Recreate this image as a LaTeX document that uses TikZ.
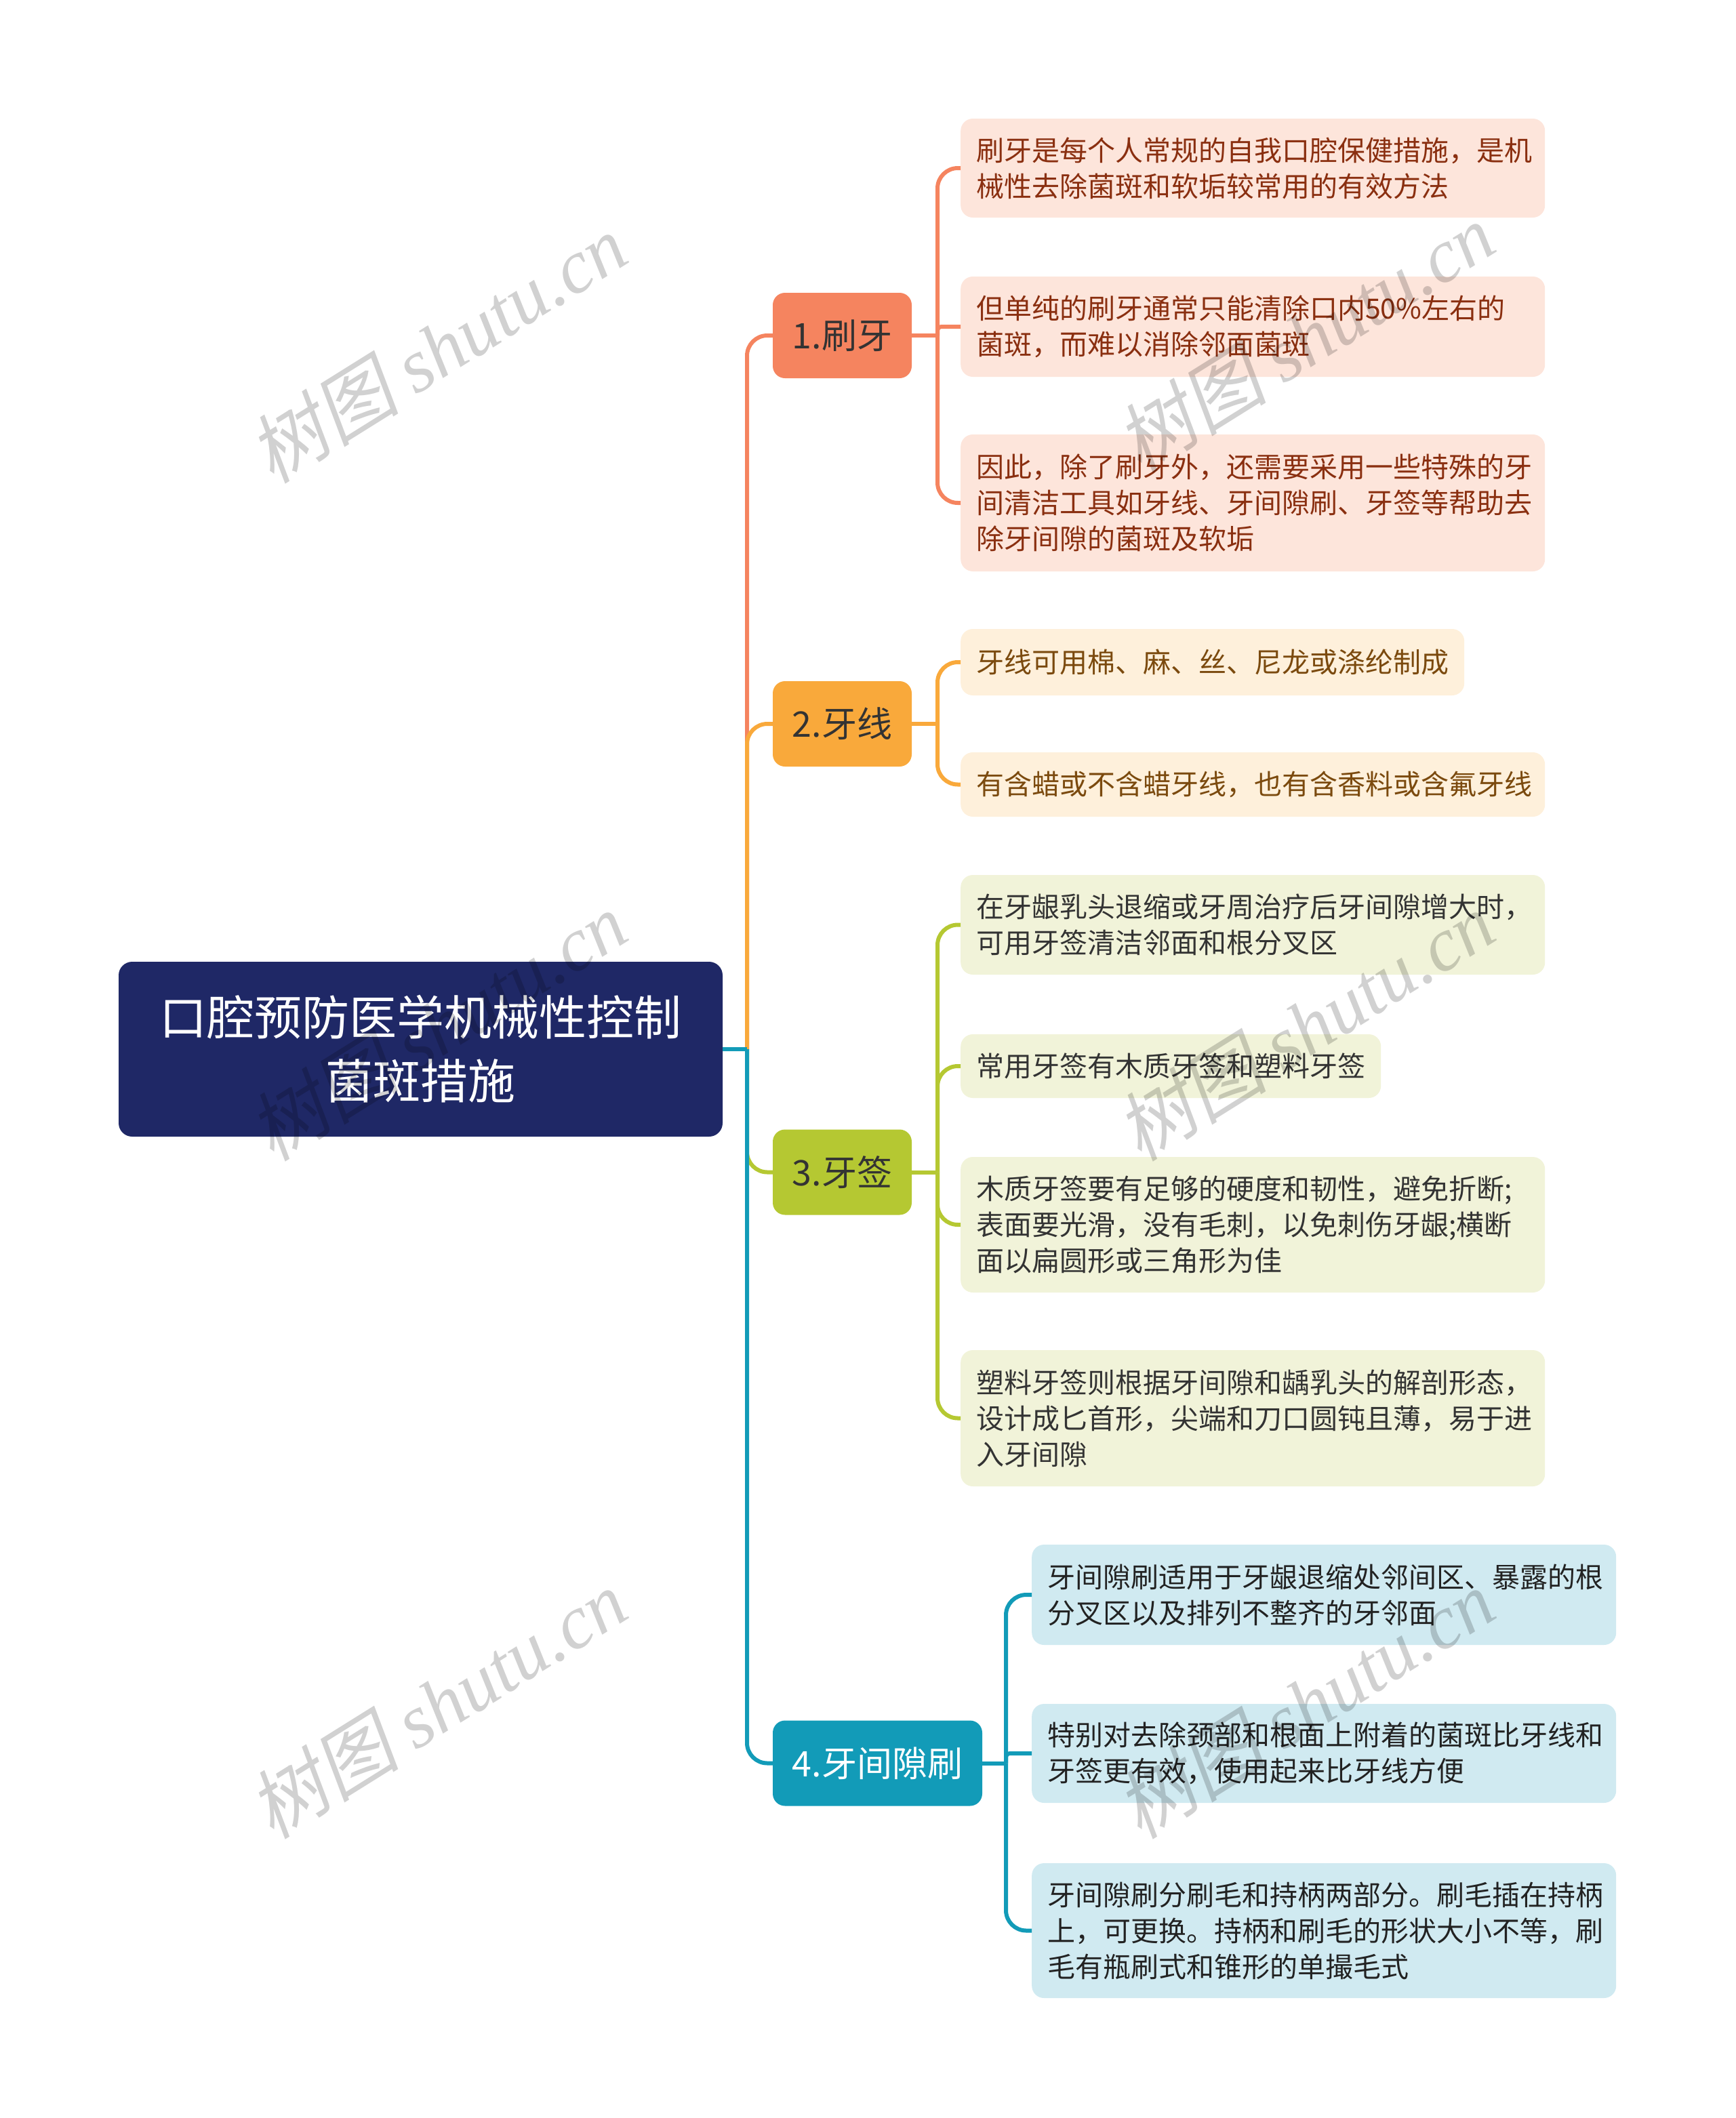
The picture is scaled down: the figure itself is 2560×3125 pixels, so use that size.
\documentclass[tikz,border=0pt]{standalone}
\usepackage{fontspec}
\setmainfont{Noto Sans CJK SC}
\newfontfamily\wmserif{Liberation Serif}
\newfontfamily\wmcjk[FakeSlant=0.2]{Noto Sans CJK SC}
\definecolor{rootc}{RGB}{31,40,102}
\definecolor{cA}{RGB}{245,132,95}
\definecolor{cB}{RGB}{249,169,59}
\definecolor{cC}{RGB}{181,200,50}
\definecolor{cD}{RGB}{18,155,184}
\definecolor{fA}{RGB}{253,229,219}
\definecolor{fB}{RGB}{254,240,219}
\definecolor{fC}{RGB}{241,243,217}
\definecolor{fD}{RGB}{208,234,241}
\definecolor{tA}{RGB}{138,47,16}
\definecolor{tB}{RGB}{123,74,14}
\definecolor{tC}{RGB}{51,51,51}
\definecolor{tD}{RGB}{34,34,34}
\begin{document}
\begin{tikzpicture}[x=1pt,y=-1pt,
  rootbox/.style={rectangle, rounded corners=20, fill=rootc, text=white,
    font=\fontsize{70}{94}\selectfont, align=center, minimum width=891, minimum height=258, inner sep=0},
  topic/.style={rectangle, rounded corners=18, fill=#1, text=tC,
    font=\fontsize{52}{60}\selectfont, minimum width=205, minimum height=126, inner sep=0},
  leaf/.style 2 args={rectangle, rounded corners=18, fill=#1, text=#2, anchor=west,
    font=\fontsize{41}{53}\selectfont, align=left, inner xsep=23, inner ysep=0},
  wide/.style={text width=816},
  link/.style={line width=6, draw=#1},
  wm/.style={rotate=32, text=black, opacity=0.18, font=\fontsize{112}{112}\selectfont}]
\useasboundingbox (0,0) rectangle (2560,3125);

% root
\node[rootbox] (root) at (620.5,1548) {口腔预防医学机械性控制\\菌斑措施};

% topics
\node[topic=cA] (n1) at (1242.5,495) {1.刷牙};
\node[topic=cB] (n2) at (1242.5,1068) {2.牙线};
\node[topic=cC] (n3) at (1242.5,1729.5) {3.牙签};
\node[topic=cD, text=white, minimum width=309] (n4) at (1294.5,2601.5) {4.牙间隙刷};

% junction coordinates
\coordinate (t0) at (1102,1548);
\coordinate (b1) at (1383,495);
\coordinate (b2) at (1383,1068);
\coordinate (b3) at (1383,1729.5);
\coordinate (b4) at (1484,2601.5);

% leaves
\node[leaf={fA}{tA}, wide, minimum height=146] (l1a) at (1417,248) {刷牙是每个人常规的自我口腔保健措施，是机\\械性去除菌斑和软垢较常用的有效方法};
\node[leaf={fA}{tA}, wide, minimum height=148] (l1b) at (1417,482) {但单纯的刷牙通常只能清除口内50\%左右的\\菌斑，而难以消除邻面菌斑};
\node[leaf={fA}{tA}, wide, minimum height=202] (l1c) at (1417,742) {因此，除了刷牙外，还需要采用一些特殊的牙\\间清洁工具如牙线、牙间隙刷、牙签等帮助去\\除牙间隙的菌斑及软垢};

\node[leaf={fB}{tB}, minimum height=98] (l2a) at (1417,977) {牙线可用棉、麻、丝、尼龙或涤纶制成};
\node[leaf={fB}{tB}, wide, minimum height=95] (l2b) at (1417,1157.5) {有含蜡或不含蜡牙线，也有含香料或含氟牙线};

\node[leaf={fC}{tC}, wide, minimum height=147] (l3a) at (1417,1364.5) {在牙龈乳头退缩或牙周治疗后牙间隙增大时，\\可用牙签清洁邻面和根分叉区};
\node[leaf={fC}{tC}, minimum height=94] (l3b) at (1417,1573) {常用牙签有木质牙签和塑料牙签};
\node[leaf={fC}{tC}, wide, minimum height=200] (l3c) at (1417,1807) {木质牙签要有足够的硬度和韧性，避免折断;\\表面要光滑，没有毛刺，以免刺伤牙龈;横断\\面以扁圆形或三角形为佳};
\node[leaf={fC}{tC}, wide, minimum height=201] (l3d) at (1417,2092.5) {塑料牙签则根据牙间隙和龋乳头的解剖形态，\\设计成匕首形，尖端和刀口圆钝且薄，易于进\\入牙间隙};

\node[leaf={fD}{tD}, wide, minimum height=148] (l4a) at (1522,2353) {牙间隙刷适用于牙龈退缩处邻间区、暴露的根\\分叉区以及排列不整齐的牙邻面};
\node[leaf={fD}{tD}, wide, minimum height=146] (l4b) at (1522,2587) {特别对去除颈部和根面上附着的菌斑比牙线和\\牙签更有效，使用起来比牙线方便};
\node[leaf={fD}{tD}, wide, minimum height=199] (l4c) at (1522,2848.5) {牙间隙刷分刷毛和持柄两部分。刷毛插在持柄\\上，可更换。持柄和刷毛的形状大小不等，刷\\毛有瓶刷式和锥形的单撮毛式};

% main connectors
\draw[link=cA] (root.east) -- (t0);
\draw[link=cA, rounded corners=30] (t0) |- (n1.west);
\draw[link=cB] (root.east) -- (t0);
\draw[link=cB, rounded corners=30] (t0) |- (n2.west);
\draw[link=cC] (root.east) -- (t0);
\draw[link=cC, rounded corners=30] (t0) |- (n3.west);
\draw[link=cD] (root.east) -- (t0);
\draw[link=cD, rounded corners=30] (t0) |- (n4.west);

% branch connectors
\draw[link=cA] (n1.east) -- (b1);
\draw[link=cA, rounded corners=30] (b1) |- (l1a.west);
\draw[link=cA, rounded corners=6] (b1) |- (l1b.west);
\draw[link=cA, rounded corners=30] (b1) |- (l1c.west);

\draw[link=cB] (n2.east) -- (b2);
\draw[link=cB, rounded corners=30] (b2) |- (l2a.west);
\draw[link=cB, rounded corners=30] (b2) |- (l2b.west);

\draw[link=cC] (n3.east) -- (b3);
\draw[link=cC, rounded corners=30] (b3) |- (l3a.west);
\draw[link=cC, rounded corners=30] (b3) |- (l3b.west);
\draw[link=cC, rounded corners=30] (b3) |- (l3c.west);
\draw[link=cC, rounded corners=30] (b3) |- (l3d.west);

\draw[link=cD] (n4.east) -- (b4);
\draw[link=cD, rounded corners=30] (b4) |- (l4a.west);
\draw[link=cD, rounded corners=6] (b4) |- (l4b.west);
\draw[link=cD, rounded corners=30] (b4) |- (l4c.west);

% watermarks
\node[wm] (w1) at (645,514) {{\wmcjk 树图} {\wmserif\itshape shutu.cn}};
\node[wm] (w2) at (1925,498) {{\wmcjk 树图} {\wmserif\itshape shutu.cn}};
\node[wm] (w3) at (645,1514) {{\wmcjk 树图} {\wmserif\itshape shutu.cn}};
\node[wm] (w4) at (1925,1514) {{\wmcjk 树图} {\wmserif\itshape shutu.cn}};
\node[wm] (w5) at (645,2514) {{\wmcjk 树图} {\wmserif\itshape shutu.cn}};
\node[wm] (w6) at (1925,2514) {{\wmcjk 树图} {\wmserif\itshape shutu.cn}};
\end{tikzpicture}
\end{document}
